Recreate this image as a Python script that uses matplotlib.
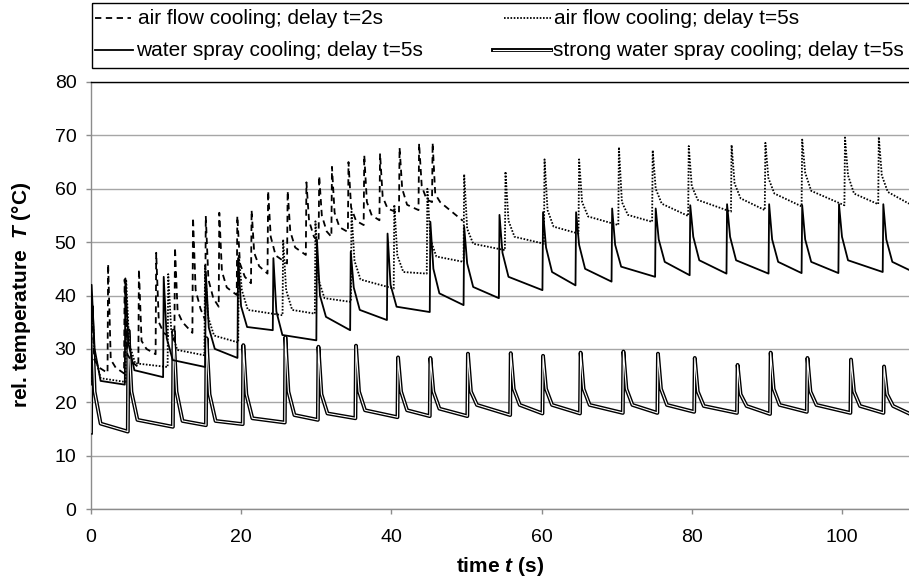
import matplotlib
matplotlib.use("Agg")
import matplotlib.pyplot as plt
from matplotlib.patches import Rectangle

plt.rcParams['font.family'] = ['Liberation Sans', 'DejaVu Sans']
plt.rcParams['mathtext.fontset'] = 'custom'
plt.rcParams['mathtext.rm'] = 'Liberation Sans'
plt.rcParams['mathtext.it'] = 'Liberation Sans:italic'
plt.rcParams['mathtext.bf'] = 'Liberation Sans:bold'
HAS_BFIT = 'mathtext.bfit' in plt.rcParams
if HAS_BFIT:
    plt.rcParams['mathtext.bfit'] = 'Liberation Sans:italic:bold'

# ---------------- data ----------------
# air flow cooling; delay t=2s (dashed)
dash_t = [0.0, 2.2, 4.4, 6.3, 8.6, 11.1, 13.5, 15.2, 17.0, 19.4, 21.3, 23.5, 26.1, 28.6, 30.3, 32.0, 34.2, 36.3, 38.4, 41.0, 43.6, 45.4]
dash_peak = [40.0, 45.9, 43.0, 44.9, 48.0, 49.0, 54.6, 54.9, 55.5, 54.9, 56.0, 59.6, 59.6, 61.2, 62.4, 64.1, 65.0, 66.3, 66.6, 67.7, 68.5, 68.6]
dash_k1 = [28, 28, 29, 31.5, 35, 37, 41, 43, 44.5, 46, 48, 51, 52, 54, 55, 55.5, 56.5, 57.5, 58.5, 60, 60.5, 59]
dash_k2 = [26.5, 26.5, 27.5, 30, 33, 35, 37.5, 39.5, 41.5, 43.5, 45.5, 47.5, 49, 51, 52, 52.8, 54, 55, 56.3, 57, 58, 57.5]
dash_end = [25.5, 25.4, 26.6, 29.0, 31.6, 33.0, 35.4, 37.9, 40.1, 42.3, 44.1, 46.0, 47.6, 50.1, 51.0, 51.9, 53.2, 54.1, 55.4, 56.0, 57.5, 54.0]
dash_init, dash_stop = 25.5, 49.5

# air flow cooling; delay t=5s (dotted)
dot_t = [0.0, 4.6, 10.2, 15.1, 19.6, 25.5, 29.8, 34.6, 40.3, 44.7, 49.6, 55.1, 60.3, 64.9, 70.2, 74.7, 79.5, 85.2, 89.7, 94.6, 100.3, 104.8]
dot_peak = [40.0, 43.0, 44.0, 45.6, 47.6, 50.5, 53.9, 55.7, 57.0, 60.0, 62.7, 63.2, 65.5, 65.5, 67.8, 67.2, 68.0, 68.2, 68.6, 69.2, 69.6, 69.7]
dot_k1 = [29, 31, 33.5, 36, 41, 41, 43, 46.5, 47.5, 50.5, 52.5, 54, 56, 57.5, 57.5, 60, 60.5, 61, 62, 63, 62.5, 62.5]
dot_k2 = [24.5, 27.3, 29.8, 32.5, 37.3, 37.3, 39.5, 43.0, 44.4, 47.3, 49.7, 51.0, 52.9, 54.8, 55.1, 57.2, 57.9, 58.2, 59.1, 59.6, 59.1, 59.4]
dot_end = [23.8, 26.6, 28.8, 31.2, 36.3, 36.6, 38.8, 41.3, 44.1, 46.3, 48.5, 49.7, 51.6, 53.2, 53.8, 54.9, 55.7, 56.0, 56.7, 56.9, 57.1, 57.2]
dot_init, dot_stop = 23.8, 108.9

# water spray cooling; delay t=5s (solid)
sol_t = [0.0, 4.5, 9.6, 15.2, 19.5, 24.2, 30.0, 34.5, 39.4, 45.1, 49.6, 54.3, 60.1, 64.5, 69.3, 75.1, 79.7, 84.6, 90.2, 94.6, 99.5, 105.4]
sol_peak = [42.0, 43.2, 43.5, 44.5, 47.0, 47.0, 50.4, 48.2, 51.6, 53.8, 52.9, 55.1, 55.6, 55.6, 56.3, 56.3, 56.9, 57.1, 57.1, 56.9, 57.1, 57.1]
sol_k1 = [30, 31, 32, 34, 38, 37, 40, 41.5, 42, 45, 46, 48, 49, 49.5, 49.5, 50.5, 51, 51, 50.5, 50.5, 51, 50.5]
sol_k2 = [24.0, 26.0, 27.9, 30.0, 34.1, 32.6, 36.0, 37.3, 37.9, 40.4, 41.6, 43.5, 44.4, 45.0, 45.4, 46.3, 46.6, 46.6, 46.3, 46.3, 46.6, 46.3]
sol_end = [23.3, 24.7, 26.6, 28.3, 33.5, 31.6, 33.5, 35.4, 36.9, 38.2, 39.5, 41.0, 41.9, 42.6, 43.5, 43.8, 44.1, 44.1, 44.2, 44.2, 44.4, 44.8]
sol_init, sol_stop = 23.3, 108.9

# strong water spray cooling; delay t=5s (double line)
str_t = [0.0, 4.9, 10.9, 15.3, 20.2, 25.8, 30.2, 35.2, 40.8, 45.1, 50.1, 55.8, 60.1, 65.1, 70.8, 75.4, 80.3, 86.0, 90.4, 95.3, 101.1, 105.5]
str_peak = [38.0, 33.5, 33.4, 32.0, 30.7, 32.2, 30.4, 30.6, 28.4, 28.3, 29.1, 29.2, 28.7, 29.3, 29.5, 29.1, 28.3, 27.0, 29.3, 28.3, 28.0, 26.7]
str_k1 = [22, 22, 22, 21.5, 21.5, 22, 21.5, 22, 22, 22, 22, 22.5, 22.5, 22.5, 22.5, 22.5, 22, 21.5, 22.5, 22, 22, 21.5]
str_k2 = [16.0, 16.7, 16.5, 16.5, 17.0, 17.6, 17.9, 18.5, 18.5, 18.8, 19.5, 19.5, 19.5, 19.5, 19.5, 19.5, 19.3, 19.3, 19.5, 19.5, 19.3, 19.3]
str_end = [14.5, 15.4, 15.7, 15.9, 16.2, 16.7, 17.0, 17.2, 17.4, 17.4, 17.6, 17.9, 17.9, 18.0, 18.0, 18.2, 18.0, 17.8, 18.2, 18.0, 18.0, 17.9]
str_init, str_stop = 14.3, 108.9

labels = ["air flow cooling; delay t=2s", "air flow cooling; delay t=5s",
          "water spray cooling; delay t=5s", "strong water spray cooling; delay t=5s"]
y_ticks = [0, 10, 20, 30, 40, 50, 60, 70, 80]
x_ticks = [0, 20, 40, 60, 80, 100]


def trace(t, peak, k1, k2, end, init, stop, d1, d2, rise=0.08):
    xs, ys = [t[0]], [init]
    for i in range(len(t)):
        ts = t[i]
        te = t[i + 1] if i + 1 < len(t) else stop
        xs += [ts + rise, ts + rise + d1, ts + rise + d2, te]
        ys += [peak[i], k1[i], k2[i], end[i]]
    return xs, ys


W, H = 909, 584
fig = plt.figure(figsize=(W / 100, H / 100), dpi=100)
ax = fig.add_axes([91 / W, 1 - 509 / H, (909 - 91) / W, (509 - 82) / H])
ax.set_xlim(0, 108.9)
ax.set_ylim(0, 80)

grey = '#8c8c8c'
ax.set_yticks(y_ticks)
ax.set_xticks(x_ticks)
ax.yaxis.grid(True, color='#a6a6a6', lw=1.0)
ax.set_axisbelow(True)
for s in ('left', 'bottom'):
    ax.spines[s].set_color(grey)
    ax.spines[s].set_linewidth(1.0)
ax.spines['top'].set_color('black')
ax.spines['top'].set_linewidth(1.0)
ax.spines['right'].set_visible(False)
ax.tick_params(direction='out', length=3.5, width=1.0, color=grey, labelsize=14)
ax.tick_params(axis='x', pad=11)
ax.tick_params(axis='y', pad=7)

dash_style = dict(color='black', lw=1.3, linestyle=(0, (3.5, 2.5)))
dot_style = dict(color='black', lw=1.3, linestyle=(0, (0.9, 0.9)))
sol_style = dict(color='black', lw=1.3)

xs, ys = trace(str_t, str_peak, str_k1, str_k2, str_end, str_init, str_stop, 0.4, 1.2)
ax.plot(xs, ys, color='black', lw=2.8, zorder=3)
ax.plot(xs, ys, color='white', lw=0.8, zorder=3.1)

xs, ys = trace(sol_t, sol_peak, sol_k1, sol_k2, sol_end, sol_init, sol_stop, 0.4, 1.2)
ax.plot(xs, ys, zorder=4, **sol_style)

xs, ys = trace(dot_t, dot_peak, dot_k1, dot_k2, dot_end, dot_init, dot_stop, 0.4, 1.2)
ax.plot(xs, ys, zorder=4, **dot_style)

xs, ys = trace(dash_t, dash_peak, dash_k1, dash_k2, dash_end, dash_init, dash_stop, 0.35, 1.0)
ax.plot(xs, ys, zorder=4, **dash_style)

# axis titles
if HAS_BFIT:
    xl = r'time $\mathbfit{t}$ (s)'
    yl = r'rel. temperature  $\mathbfit{T}$ (°C)'
else:
    xl = r'time $\mathit{t}$ (s)'
    yl = r'rel. temperature  $\mathit{T}$ (°C)'
fig.text(500 / W, 1 - 567 / H, xl, ha='center', va='center', fontsize=15, fontweight='bold')
fig.text(22 / W, 1 - 295 / H, yl, ha='center', va='center', rotation=90,
         fontsize=15, fontweight='bold')

# legend (drawn in pixel coordinates)
lax = fig.add_axes([0, 0, 1, 1], zorder=10)
lax.set_xlim(0, W)
lax.set_ylim(H, 0)
lax.axis('off')
lax.add_patch(Rectangle((91.5, 2.5), 830, 65.5, fill=False, lw=1.0, ec='black'))
r1, r2 = 18, 50
lax.plot([95, 131], [r1, r1], **dash_style)
lax.text(138, r1, labels[0], va='center', ha='left', fontsize=15)
lax.plot([504, 551], [r1, r1], **dot_style)
lax.text(554, r1, labels[1], va='center', ha='left', fontsize=15)
lax.plot([95, 133], [r2, r2], **sol_style)
lax.text(136, r2, labels[2], va='center', ha='left', fontsize=15)
lax.plot([493, 551], [r2, r2], color='black', lw=2.8)
lax.plot([493, 551], [r2, r2], color='white', lw=0.8)
lax.text(553, r2, labels[3], va='center', ha='left', fontsize=15)

fig.savefig('out.png', dpi=100)
